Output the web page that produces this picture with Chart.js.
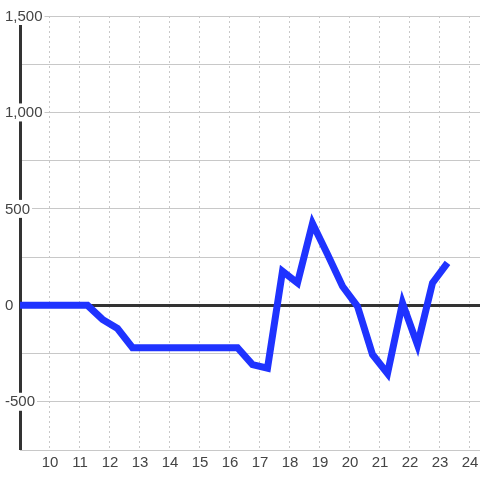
<!DOCTYPE html>
<html>
<head>
<meta charset="utf-8">
<script src="https://cdn.jsdelivr.net/npm/chart.js@4"></script>
<style>
  html, body { margin: 0; padding: 0; background: #fff; }
  #chart { display: block; }
</style>
</head>
<body>
<canvas id="chart" width="480" height="480"></canvas>
<script>
const xValues = [8.75, 9.25, 9.75, 10.25, 10.75, 11.25, 11.75, 12.25, 12.75, 13.25,
  13.75, 14.25, 14.75, 15.25, 15.75, 16.25, 16.75, 17.25, 17.75, 18.25,
  18.75, 19.25, 19.75, 20.25, 20.75, 21.25, 21.75, 22.25, 22.75, 23.25];
const yValues = [0, 0, 0, 0, 0, 0, -73, -120, -220, -220,
  -220, -220, -220, -220, -220, -220, -307, -326, 177, 116,
  425, 265, 99, -5, -255, -353, 12, -205, 116, 220];
const xTickLabels = [10, 11, 12, 13, 14, 15, 16, 17, 18, 19, 20, 21, 22, 23, 24];
const yTickLabels = [-500, 0, 500, 1000, 1500];

const labelFont = '15px "Liberation Sans", Arial, sans-serif';
const labelColor = '#444';

function strokeLine(ctx, x1, y1, x2, y2) {
  ctx.beginPath();
  ctx.moveTo(x1, y1);
  ctx.lineTo(x2, y2);
  ctx.stroke();
}

// zero line, y axis and y labels (with white boxes over axis/grid)
const axisPlugin = {
  id: 'axisPlugin',
  beforeDatasetsDraw(chart) {
    const { ctx, chartArea, scales } = chart;
    const y = scales.y;
    const left = chartArea.left + 0.5;
    ctx.save();
    ctx.strokeStyle = '#333';
    ctx.lineWidth = 3;
    const y0 = Math.floor(y.getPixelForValue(0)) + 0.5;
    strokeLine(ctx, chartArea.left, y0, chartArea.right, y0);
    strokeLine(ctx, left, chartArea.top, left, chartArea.bottom);

    ctx.font = labelFont;
    ctx.textBaseline = 'middle';
    ctx.textAlign = 'left';
    yTickLabels.forEach((v) => {
      const text = v.toLocaleString('en-US');
      const py = y.getPixelForValue(v);
      const w = ctx.measureText(text).width;
      const x = chartArea.left - 15;
      ctx.fillStyle = '#fff';
      ctx.fillRect(x - 1, py - 9, w + 3, 18);
      ctx.fillStyle = labelColor;
      ctx.fillText(text, x, py + 0.5);
    });
    ctx.restore();
  },
};

new Chart(document.getElementById('chart'), {
  type: 'line',
  data: {
    datasets: [
      {
        data: xValues.map((x, i) => ({ x, y: yValues[i] })),
        borderColor: '#1f33ff',
        borderWidth: 7,
        pointRadius: 0,
        tension: 0,
        fill: false,
      },
    ],
  },
  options: {
    responsive: false,
    animation: false,
    devicePixelRatio: 1,
    layout: { padding: { left: 20, top: 16, right: 0, bottom: 4 } },
    plugins: {
      legend: { display: false },
      tooltip: { enabled: false },
    },
    scales: {
      x: {
        type: 'linear',
        min: 9,
        max: 24.3334,
        afterBuildTicks(scale) {
          scale.ticks = xTickLabels.map((value) => ({ value }));
        },
        afterFit(scale) {
          scale.paddingLeft = 0;
          scale.paddingRight = 0;
        },
        ticks: {
          color: labelColor,
          font: { family: '"Liberation Sans", Arial, sans-serif', size: 15 },
          padding: 4,
          maxRotation: 0,
          autoSkip: false,
        },
        border: { display: false, dash: [2, 3] },
        grid: {
          color: '#c8c8c8',
          drawTicks: false,
        },
      },
      y: {
        min: -750,
        max: 1500,
        ticks: { display: false, stepSize: 250 },
        afterFit(scale) {
          scale.width = 0;
        },
        border: { display: false },
        grid: { color: '#c8c8c8', drawTicks: false },
      },
    },
  },
  plugins: [axisPlugin],
});
</script>
</body>
</html>
